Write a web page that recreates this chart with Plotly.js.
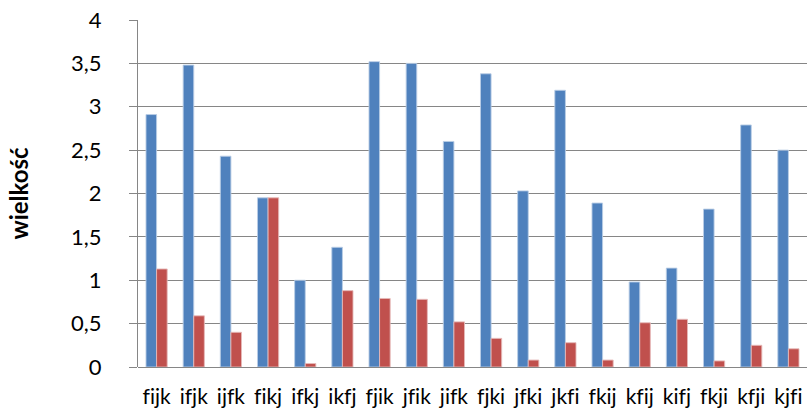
<!DOCTYPE html>
<html>
<head>
<meta charset="utf-8">
<script src="https://cdn.plot.ly/plotly-3.0.1.min.js"></script>
<style>
  html, body { margin: 0; padding: 0; background: #fff; }
  #chart { width: 808px; height: 416px; }
  #chart text { font-variant-ligatures: none; font-feature-settings: "liga" 0; }
</style>
</head>
<body>
<div id="chart"></div>
<script>
// permutation labels on the category axis
const categories = ["fijk", "ifjk", "ijfk", "fikj", "ifkj", "ikfj", "fjik", "jfik", "jifk",
                    "fjki", "jfki", "jkfi", "fkij", "kfij", "kifj", "fkji", "kfji", "kjfi"];

// first series (blue)
const seriesBlue = [2.91, 3.48, 2.43, 1.95, 1.00, 1.38, 3.52, 3.50, 2.60,
                    3.38, 2.03, 3.19, 1.89, 0.98, 1.14, 1.82, 2.79, 2.50];

// second series (red)
const seriesRed = [1.13, 0.59, 0.40, 1.95, 0.04, 0.88, 0.79, 0.78, 0.52,
                   0.33, 0.08, 0.28, 0.08, 0.51, 0.55, 0.07, 0.25, 0.21];

const yTicks = [0, 0.5, 1, 1.5, 2, 2.5, 3, 3.5, 4];

const FONT = "Lato, 'Open Sans', sans-serif";

const traces = [
  {
    type: "bar",
    x: categories,
    y: seriesBlue,
    marker: { color: "#4F81BD", line: { color: "rgba(185,205,229,0.9)", width: 1 } },
    hoverinfo: "x+y"
  },
  {
    type: "bar",
    x: categories,
    y: seriesRed,
    marker: { color: "#C0504D", line: { color: "rgba(230,185,184,0.9)", width: 1 } },
    hoverinfo: "x+y"
  }
];

const layout = {
  width: 808,
  height: 416,
  margin: { l: 138, r: 1, t: 20, b: 49 },
  paper_bgcolor: "#ffffff",
  plot_bgcolor: "#ffffff",
  showlegend: false,
  barmode: "group",
  bargap: 0.43,
  bargroupgap: 0,
  separators: ", ",
  font: { family: FONT, color: "#000000", size: 20 },
  xaxis: {
    type: "category",
    showgrid: false,
    showline: false,
    ticks: "",
    ticklabelstandoff: 15,
    tickfont: { size: 21, color: "#000", family: FONT },
    fixedrange: true
  },
  yaxis: {
    range: [0, 4],
    tickvals: yTicks,
    showgrid: true,
    gridcolor: "#868686",
    gridwidth: 1,
    zeroline: true,
    zerolinecolor: "#868686",
    zerolinewidth: 1,
    showline: true,
    linecolor: "#868686",
    linewidth: 1,
    ticks: "outside",
    ticklen: 8,
    tickcolor: "#868686",
    tickwidth: 1,
    ticklabelstandoff: 23,
    tickfont: { size: 22, color: "#000", family: FONT },
    title: {
      text: "wielkość",
      font: { size: 24, color: "#000", family: FONT, weight: "bold" },
      standoff: 35
    },
    fixedrange: true
  }
};

Plotly.newPlot("chart", traces, layout, { displayModeBar: false, staticPlot: true });
</script>
</body>
</html>
